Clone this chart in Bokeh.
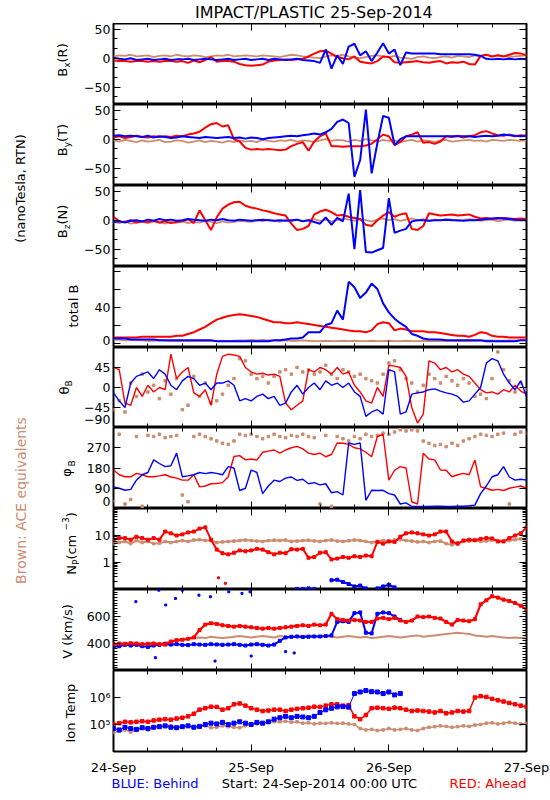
import math
from bokeh.plotting import figure
from bokeh.layouts import column, row
from bokeh.models import (Range1d, FixedTicker, LinearAxis, LogAxis, CustomJSTickFormatter,
                          AllLabels)
from bokeh.embed import file_html
from bokeh.resources import INLINE
from bokeh.core.properties import value

N = float("nan")

# ---------------- data (hours after 24-Sep-2014 00:00 UTC) ----------------
HOURS = list(range(73))
DAY_TICKS = [0, 24, 48, 72]
DAY_LABELS = ["24-Sep", "25-Sep", "26-Sep", "27-Sep"]
SIX_HOUR_TICKS = [6, 12, 18, 30, 36, 42, 54, 60, 66]

BX_RED = [-4, -5, -5, -6, -5, -5, -6, -5, -6, -5, -5, -6,
          -5, -8, -4, -7, -3, 2, -6, -5, -5, -6, -10, -12,
          -13, -12, -11, -6, -4, -3, -2, -3, -2, -1, 3, 8,
          12, 13, 8, 2, 0, -2, 3, -6, -8, -9, -5, 3,
          2, -7, -8, -7, -6, -5, -7, -8, -6, -5, -9, -7,
          -8, -6, -10, -11, 4, 6, 3, 5, 3, 6, 9, 8,
          5]
BX_BLUE = [1, -1, -2, 0, -3, -2, -1, -3, -2, -1, -3, -2,
           -2, -1, -3, -2, -1, -2, -3, -2, -1, -3, -2, -1,
           -3, -2, -1, -3, -1, -2, -3, -2, -1, -3, -4, -5,
           -8, 15, -18, 5, -10, 20, 25, 5, 12, -5, 10, 26,
           8, 15, -12, 10, 8, 8, 8, 8, 8, 7, 7, 7,
           7, 7, 7, 6, 4, -1, -2, -1, -2, -1, -2, -1,
           -2]
BX_BROWN = [3, 5, 4, 6, 3, 4, 5, 2, 4, 5, 3, 6,
            4, 3, 5, 4, 2, 3, 5, 4, 6, 3, 4, 5,
            4, 3, 5, 4, 3, 2, 4, 6, 5, 3, 2, 1,
            0, 3, 5, 4, 6, 3, 1, 0, 2, 4, 5, 3,
            2, 4, 1, 0, -1, 2, 3, 1, 0, 2, 3, 1,
            4, 3, 2, 5, 4, 6, 3, 5, 4, 2, 3, 4,
            5]

BY_RED = [3, 5, 2, 4, 6, 4, 3, 5, 4, 5, 4, 6,
          5, 8, 10, 13, 20, 26, 28, 22, 24, 0, -4, -15,
          -18, -17, -18, -17, -18, -19, -18, -12, -8, -5, -20, -4,
          5, 10, -12, -12, -13, -12, -12, -12, -11, -8, 0, 8,
          5, -10, -5, 5, 8, 12, -6, -5, -8, -4, 5, 4,
          6, 3, 5, 7, 12, 14, 10, 7, 6, 8, 5, 7,
          6]
BY_BLUE = [6, 7, 5, 6, 5, 4, 6, 3, 5, 4, 2, 3,
           5, 4, 3, 2, 4, 3, 2, 3, 4, 2, 3, 1,
           3, 2, 0, 2, 3, 4, 5, 6, 5, 7, 8, 10,
           8, 12, 18, 30, 34, 28, -65, -36, 51, -59, -7, 40,
           37, -10, 0, 5, 5, 5, 5, 5, 5, 5, 5, 5,
           5, 5, 5, 4, 5, 6, 5, 6, 8, 7, 6, 5,
           6]
BY_BROWN = [-2, -4, -1, -3, -5, -2, -4, -3, -1, -5, -4, -2,
            -3, -6, -4, -2, -5, -3, -4, -6, -3, -5, -2, -4,
            -3, -5, -1, -3, -4, -2, -3, -1, -4, -2, -3, -5,
            -2, 0, -3, -1, -2, -4, -1, -3, 0, -2, -4, -1,
            -3, -2, -5, -3, -1, -4, -2, -3, -5, -2, -1, -4,
            -3, -2, -1, -3, -2, -4, -1, -2, -3, -1, -2, -3,
            -2]

BZ_RED = [6, -2, -3, 0, -4, -2, -3, -1, -4, -2, -5, -3,
          -2, 2, -5, 17, 0, -17, 5, 20, 27, 31, 32, 25,
          22, 20, 17, 15, 12, 10, 8, -6, -17, -15, -10, 10,
          15, 18, 14, 8, 9, 6, 4, 2, -8, -10, 0, 8,
          14, 6, 10, 12, -15, -17, -10, 12, 10, 8, 9, 10,
          8, 9, 10, 6, 3, 4, 2, 3, 4, 3, 2, 3,
          2]
BZ_BLUE = [-3, -2, -4, -1, 0, -2, 1, -1, 2, 0, 1, -1,
           0, 2, 1, 0, -1, 1, 0, 2, 0, -1, 1, 0,
           -1, 0, 1, 0, -1, 0, -1, 0, 1, -2, 0, -3,
           -6, 5, -8, 4, -2, 46, -50, 52, -55, -56, -52, -48,
           38, -22, -18, -15, -2, 0, 0, -1, 0, 0, 1, 0,
           0, -1, 0, 0, 1, 2, 3, 4, 3, 2, 1, 0,
           0]
BZ_BROWN = [-3, -5, -2, -6, -4, -3, -5, -2, -4, -6, -3, -4,
            -2, -5, -3, -4, -1, -3, -5, -2, -4, -3, -1, -2,
            -3, 0, -2, 1, -1, -3, 0, -2, 1, -1, 0, 2,
            -1, 1, -2, 0, 3, 1, -1, 2, 0, -2, 1, 3,
            0, 2, -1, 1, 3, 0, 2, -1, 1, 0, 2, 1,
            -1, 0, 2, 1, -1, 0, 1, -2, 0, 1, -1, 0,
            1]

BT_RED = [6, 6, 6, 6, 6, 7, 7, 7, 7, 7, 7, 8,
          8, 10, 12, 15, 18, 22, 26, 28, 30, 31, 32, 31,
          30, 29, 27, 25, 23, 23, 22, 22, 23, 22, 21, 20,
          19, 18, 17, 16, 15, 14, 13, 13, 12, 14, 21, 23,
          22, 14, 16, 15, 13, 13, 13, 12, 12, 11, 10, 9,
          8, 8, 7, 9, 12, 11, 8, 7, 7, 6, 6, 6,
          6]
BT_BLUE = [5, 5, 5, 4, 4, 4, 4, 4, 3, 3, 3, 3,
           3, 3, 3, 3, 3, 3, 2, 2, 2, 2, 2, 2,
           2, 2, 2, 2, 3, 3, 4, 5, 5, 6, 12, 12,
           12, 20, 22, 36, 26, 68, 62, 50, 56, 66, 60, 44,
           34, 27, 22, 18, 10, 8, 5, 4, 4, 4, 3, 3,
           3, 3, 3, 3, 3, 2, 2, 2, 2, 2, 2, 3,
           3]
BT_BROWN = [3.5, 3.5, 3, 3.5, 3, 3, 2.5, 2.5, 3, 2.5, 2, 2.5,
            2, 2.5, 2, 2, 2.5, 2, 2, 2.5, 2, 2.5, 3, 3,
            3.5, 3, 3.5, 3, 3, 2.5, 3, 2.5, 2.5, 3, 2.5, 2,
            2, 2.5, 2, 2, 2.5, 2, 2.5, 2, 2, 2.5, 2, 2,
            2.5, 2, 2, 2.5, 2, 2, 2.5, 2, 2, 2.5, 2, 2,
            2.5, 2, 2, 2, 2.5, 3, 3, 2.5, 2.5, 3, 3, 3,
            3]

TH_RED = [46, 40, -35, -40, 0, -20, 5, -10, 0, -5, 75, 20,
          35, 45, -12, -20, -5, -40, 30, 70, 75, 73, 70, 45,
          35, 30, 32, 28, 30, 25, -35, -50, -40, -30, 40, 35,
          45, 40, 30, 45, 30, 35, 5, -10, -30, -35, 0, -20,
          50, 48, 45, 25, -45, -80, -60, 60, 55, 40, 45, 35,
          40, 30, 25, 10, -5, -12, -10, -15, -5, -10, 5, -8,
          -15]
TH_BLUE = [-12, -30, -45, 10, 25, 30, 35, 20, 40, 30, 5, -5,
           15, 25, 20, 5, 10, -5, 10, 10, 15, 5, -30, -25,
           -30, -20, -15, -25, -20, -40, -35, -10, 5, -15, 0, 10,
           -5, 15, 5, 10, 0, 10, -10, -20, -65, -55, -50, -60,
           40, 35, -60, -55, -15, -12, -10, -5, -3, -8, -12, -15,
           -20, -33, -30, -15, 0, 55, 65, 60, 30, 10, -5, 15,
           -20]
TH_BROWN = [-50, -30, -55, 10, -20, 30, -10, 5, -25, 15, -15, 20,
            -50, -40, 25, -20, 10, -35, -30, -15, 5, 20, 65, 60,
            30, 20, 25, 10, 25, 35, 40, 30, 45, 35, 40, 30,
            35, 50, 30, 20, 40, 35, 25, 30, 20, 15, 10, 30,
            55, 60, 40, 20, 10, -10, 5, 30, 20, 10, 25, 15,
            5, 20, 10, -20, -15, -25, 20, 80, 40, 15, -10, 10,
            -5]

PH_RED = [171, 150, 141, 141, 156, 150, 141, 141, 145, 150, 140, 135,
          126, 126, 150, 96, 100, 110, 111, 115, 141, 231, 235, 216,
          220, 215, 250, 255, 260, 246, 260, 270, 276, 265, 246, 240,
          246, 230, 240, 291, 290, 285, 270, 265, 250, 230, 320, 330,
          126, 170, 186, 180, 30, 20, 246, 220, 216, 171, 170, 141,
          150, 156, 150, 216, 96, 90, 81, 85, 80, 90, 95, 100,
          90]
PH_BLUE = [96, 90, 81, 85, 126, 150, 160, 216, 200, 186, 190, 246,
           141, 145, 150, 160, 155, 160, 156, 150, 186, 180, 80, 90,
           171, 160, 66, 100, 126, 120, 135, 140, 125, 130, 110, 115,
           105, 110, 70, 75, 60, 291, 285, 291, 36, 81, 80, 81,
           66, 60, 20, 25, 9, 9, 9, 9, 10, 10, 9, 9,
           10, 10, 12, 15, 66, 100, 141, 150, 186, 140, 126, 130,
           126]
PH_BROWN = [30, 330, 20, 40, 320, 10, 325, 320, 330, 315, 320, 325,
            60, 30, 320, 330, 320, 310, 300, 290, 285, 300, 330, 325,
            330, 320, 310, 320, 330, 320, 315, 325, 320, 330, 320, 315,
            20, 325, 10, 320, 310, 300, 320, 310, 330, 320, 325, 335,
            330, 340, 350, 345, 350, 345, 300, 290, 280, 285, 275, 290,
            280, 300, 310, 320, 330, 325, 320, 330, 335, 20, 330, 340,
            335]

NP_RED = [7, 8, 8, 7, 9, 8, 7, 8, 7, 14, 12, 10,
          11, 13, 14, 18, 20, 7, 3, 2.2, 2, 2.3, 2.8, 2.6,
          2.8, 3.2, 3, 2.4, 2, 2.3, 2.2, 3.1, 3, 3.2, 1.5, 1.6,
          2.3, 2.4, 1.3, 1.4, 1.6, 1.5, 1.7, 1.6, 1.8, 1.7, 5.8, 5,
          6, 5.8, 9, 12, 13, 12, 11, 10, 11, 14, 14, 6,
          5, 6.5, 7, 6.7, 7.5, 8, 7.8, 6, 6, 8, 10, 12,
          20]
NP_BLUE = [N, N, N, N, N, N, N, N, N, N, N, N,
           N, N, N, N, N, N, N, N, N, N, N, N,
           N, N, N, N, N, N, N, N, 0.105, 0.105, 0.11, 0.105,
           N, N, 0.22, 0.23, 0.19, 0.16, 0.13, 0.14, 0.11, N, 0.11, 0.13,
           0.15, 0.12, N, N, N, N, N, N, N, N, N, N,
           N, N, N, N, N, N, N, N, N, N, N, N,
           N]
NP_BROWN = [5, 5.5, 6, 5, 6.5, 5.5, 6, 5, 5.2, 6, 5.5, 6,
            6.5, 6, 6.8, 7, 6.5, 6.5, 5.5, 5.8, 6, 6.2, 6.5, 6.8,
            6.5, 6.2, 6, 6.5, 6.7, 6.5, 6.8, 6, 6.2, 6.5, 6.7, 6.3,
            6, 6.5, 6.8, 6.2, 6, 6.4, 6.8, 6.5, 6, 5.5, 6, 6.5,
            6.3, 6.8, 7, 6.5, 6.2, 5.8, 6, 5.5, 6, 6.2, 5, 4.5,
            5.5, 6, 6.2, 6.5, 6, 6.3, 6.8, 6.5, 6.2, 6.5, 7, 7.5,
            7]
NP_RED_OUT_T = [18.3, 19.5]
NP_RED_OUT_V = [0.27, 0.17]

V_RED = [395, 400, 398, 402, 400, 395, 398, 400, 395, 392, 415, 425,
         428, 435, 445, 500, 540, 550, 545, 535, 530, 525, 530, 525,
         520, 515, 510, 515, 510, 515, 520, 525, 530, 535, 530, 540,
         535, 540, 620, 580, 575, 570, 575, 570, 560, 560, 585, 590,
         580, 590, 570, 560, 570, 600, 595, 600, 590, 585, 560, 540,
         575, 570, 565, 580, 690, 720, 750, 740, 725, 715, 700, 680,
         650]
V_BLUE = [375, 380, 390, 385, 390, 380, 375, 385, 390, 395, 392, 395,
          390, 388, 395, 392, 390, 395, 393, 390, 392, 395, 390, 385,
          392, 395, 390, 385, 392, 420, 445, 450, 452, 448, 450, 452,
          452, 455, 460, 560, 565, 560, 625, 630, 480, 475, 620, 630,
          625, 600, 575, N, N, N, N, N, N, N, N, N,
          N, N, N, N, N, N, N, N, N, N, N, N,
          N]
V_BROWN = [395, 385, 400, 390, 395, 385, 400, 405, 395, 410, 405, 420,
           425, 435, 440, 445, 440, 450, 445, 440, 445, 450, 455, 450,
           445, 450, 455, 450, 445, 455, 450, 445, 450, 455, 460, 455,
           450, 455, 450, 445, 450, 455, 450, 445, 450, 440, 445, 450,
           455, 450, 445, 450, 455, 460, 450, 455, 460, 465, 470, 475,
           480, 475, 470, 460, 455, 450, 455, 450, 445, 440, 445, 440,
           445]
V_BLUE_OUT_T = [3.9, 7.3, 7.9, 9.1, 10.8, 12.0, 14.9, 16.9, 17.7, 20.1, 22.4, 23.8, 24.0, 30.0, 31.5]
V_BLUE_OUT_V = [710, 295, 795, 685, 734, 795, 758, 746, 270, 783, 771, 783, 307, 340, 330]

T_RED = [1.0e5, 1.12e5, 1.26e5, 1.2e5, 1.26e5, 1.32e5, 1.26e5, 1.41e5, 1.51e5, 1.58e5, 1.51e5, 1.66e5,
         1.78e5, 2.0e5, 2.5e5, 3.55e5, 4.0e5, 4.57e5, 4.47e5, 3.55e5, 4.0e5, 5.6e5, 6.0e5, 5.0e5,
         4.0e5, 3.55e5, 3.16e5, 3.3e5, 3.55e5, 3.55e5, 3.16e5, 3.55e5, 3.8e5, 4.0e5, 4.2e5, 4.57e5,
         4.47e5, 5.0e5, 5.6e5, 5.6e5, 5.0e5, 5.25e5, 2.0e5, 1.58e5, 2.24e5, 4.0e5, 4.2e5, 4.0e5,
         3.8e5, 4.2e5, 4.0e5, 3.55e5, 3.16e5, 3.3e5, 3.16e5, 3.0e5, 2.8e5, 3.16e5, 2.6e5, 2.8e5,
         3.16e5, 3.0e5, 3.16e5, 1.0e6, 1.12e6, 1.05e6, 8.9e5, 7.9e5, 7.1e5, 6.3e5, 5.6e5, 5.0e5,
         4.57e5]
T_BLUE = [7.1e4, 6.3e4, 7.9e4, 7.1e4, 6.6e4, 7.6e4, 7.1e4, 7.9e4, 8.3e4, 8.9e4, 7.9e4, 7.6e4,
          8.3e4, 8.9e4, 7.9e4, 8.5e4, 1.0e5, 1.12e5, 1.05e5, 1.2e5, 1.0e5, 1.12e5, 1.26e5, 1.12e5,
          1.0e5, 1.2e5, 1.12e5, 1.26e5, 1.58e5, 1.78e5, 2.0e5, 1.78e5, 2.0e5, 1.9e5, 1.78e5, 2.0e5,
          2.8e5, 3.5e5, 4.0e5, 4.5e5, 4.6e5, 4.4e5, 1.4e6, 1.6e6, 1.8e6, 1.65e6, 1.6e6, 1.4e6,
          1.6e6, 1.25e6, 1.4e6, N, N, N, N, N, N, N, N, N,
          N, N, N, N, N, N, N, N, N, N, N, N,
          N]
T_BROWN = [5.0e4, 5.6e4, 6.3e4, 5.25e4, 6.0e4, 7.1e4, 6.3e4, 7.9e4, 8.9e4, 8.3e4, 8.9e4, 7.9e4,
           8.5e4, 8.9e4, 7.9e4, 8.3e4, 8.9e4, 7.6e4, 7.9e4, 8.9e4, 8.3e4, 7.9e4, 7.6e4, 8.9e4,
           1.0e5, 1.05e5, 1.12e5, 1.2e5, 1.26e5, 1.26e5, 1.32e5, 1.2e5, 1.26e5, 1.12e5, 1.15e5, 1.05e5,
           1.12e5, 1.1e5, 1.15e5, 1.1e5, 1.12e5, 1.05e5, 1.0e5, 7.1e4, 6.3e4, 6.6e4, 6.0e4, 6.3e4,
           7.1e4, 6.3e4, 6.6e4, 7.1e4, 6.3e4, 6.0e4, 7.1e4, 7.9e4, 8.3e4, 8.9e4, 8.5e4, 7.9e4,
           8.3e4, 8.9e4, 8.5e4, 9.5e4, 1.0e5, 1.12e5, 1.15e5, 1.05e5, 1.12e5, 1.2e5, 1.12e5, 1.05e5,
           1.12e5]

# ---------------- styling / layout (page pixels; the page has no margin) ----------------
RED, BLUE, BROWN = "#ff0000", "#0000ff", "#cc8c70"
FONT = "DejaVu Sans"
PAGE_W, PAGE_H = 550, 800
FRAME_LEFT, FRAME_RIGHT = 111, 526
LEFT_W = 81
PANEL_W = PAGE_W - LEFT_W
MB_LEFT = FRAME_LEFT - LEFT_W
MB_RIGHT = PAGE_W - FRAME_RIGHT
FRAME_HS = [81, 81, 81, 81, 80, 81, 81, 81, 81]
TOP = 23
AXIS_B = 26
MID_H = sum(FRAME_HS) + AXIS_B
FOOT_H = PAGE_H - TOP - MID_H

XR = Range1d(0, 72)

CHAR_W = {"B": .686, "x": .592, "y": .592, "z": .525, "(": .390, ")": .390,
          "R": .695, "T": .611, "N": .748, "t": .392, "o": .612, "a": .613,
          "l": .278, " ": .318, "θ": .612, "φ": .781, "P": .603, "c": .550,
          "m": .974, "−": .838, "3": .636, "V": .684, "k": .579, "/": .337,
          "s": .521, "I": .295, "n": .634, "e": .615, "p": .635}


def text_width(s, size):
    return sum(CHAR_W.get(ch, 0.6) for ch in s) * size


def blank():
    return CustomJSTickFormatter(code="return ''")


def style_axis(ax, major_in=7, minor_in=4, font_size="12.5px"):
    ax.major_tick_in = major_in
    ax.major_tick_out = 0
    ax.minor_tick_in = minor_in
    ax.minor_tick_out = 0
    ax.major_tick_line_color = "black"
    ax.minor_tick_line_color = "black"
    ax.axis_line_color = None
    ax.major_label_text_font = FONT
    ax.major_label_text_font_size = font_size
    ax.major_label_text_color = "black"
    ax.major_label_policy = AllLabels()


def panel(i, yr, log, marks, minor, label_at, labels):
    last = i == len(FRAME_HS) - 1
    p = figure(width=PANEL_W, height=FRAME_HS[i] + (AXIS_B if last else 0),
               x_range=XR, y_range=Range1d(*yr),
               y_axis_type="log" if log else "linear",
               x_axis_location=None, y_axis_location="left", title=None,
               output_backend="svg", toolbar_location=None,
               min_border_left=MB_LEFT, min_border_right=MB_RIGHT,
               min_border_top=0, min_border_bottom=AXIS_B if last else 0)
    p.grid.visible = False
    p.outline_line_color = "black"
    p.outline_line_width = 2
    p.background_fill_color = "white"
    p.border_fill_color = "white"

    # labels of the left axis (edge labels nudged inside the box, as IDL does)
    ya = p.yaxis[0]
    ya.ticker = FixedTicker(ticks=label_at)
    ya.major_label_overrides = dict(zip(label_at, labels))
    style_axis(ya, 0, 0)
    ya.major_label_standoff = 3

    AxisCls = LogAxis if log else LinearAxis
    # inward tick marks on the left and right edges
    for loc, side in ((0, "left"), (72, "right")):
        ax = AxisCls(fixed_location=loc, ticker=FixedTicker(ticks=marks, minor_ticks=minor),
                     formatter=blank())
        style_axis(ax)
        p.add_layout(ax, side)

    # inward tick marks on the bottom and top edges
    for loc, side in ((yr[0], "below"), (yr[1], "above")):
        if last and side == "below":
            continue
        xa = LinearAxis(fixed_location=loc,
                        ticker=FixedTicker(ticks=DAY_TICKS, minor_ticks=SIX_HOUR_TICKS),
                        formatter=blank())
        style_axis(xa)
        p.add_layout(xa, side)
    if last:
        xa = LinearAxis(ticker=FixedTicker(ticks=DAY_TICKS, minor_ticks=SIX_HOUR_TICKS),
                        major_label_overrides=dict(zip(DAY_TICKS, DAY_LABELS)))
        style_axis(xa, font_size="13px")
        xa.major_label_standoff = 8
        p.add_layout(xa, "below")
    return p


B_TICKS = [-50, 0, 50]
B_LABELS = ["−50", "0", "50"]
B_MINOR = [-66.67, -33.33, -16.67, 16.67, 33.33]

panels = []

p = panel(0, (-80, 60), False, B_TICKS, B_MINOR, B_TICKS, B_LABELS)
p.line(HOURS, BX_BROWN, color=BROWN, line_width=1.8)
p.line(HOURS, BX_RED, color=RED, line_width=2)
p.line(HOURS, BX_BLUE, color=BLUE, line_width=2)
panels.append(p)

p = panel(1, (-80, 60), False, B_TICKS, B_MINOR, B_TICKS, B_LABELS)
p.line(HOURS, BY_BROWN, color=BROWN, line_width=1.8)
p.line(HOURS, BY_RED, color=RED, line_width=2)
p.line(HOURS, BY_BLUE, color=BLUE, line_width=2)
panels.append(p)

p = panel(2, (-80, 60), False, B_TICKS, B_MINOR, B_TICKS, B_LABELS)
p.line(HOURS, BZ_BROWN, color=BROWN, line_width=1.8)
p.line(HOURS, BZ_RED, color=RED, line_width=2)
p.line(HOURS, BZ_BLUE, color=BLUE, line_width=2)
panels.append(p)

p = panel(3, (-5, 85), False, [0, 20, 40, 60, 80], [], [3.3, 40], ["0", "40"])
p.line(HOURS, BT_BROWN, color=BROWN, line_width=1.8)
p.line(HOURS, BT_RED, color=RED, line_width=2)
p.line(HOURS, BT_BLUE, color=BLUE, line_width=2)
panels.append(p)

p = panel(4, (-90, 90), False, [-90, -45, 0, 45, 90], [],
          [-73, -45, 0, 45], ["−90", "−45", "0", "45"])
p.scatter(HOURS, TH_BROWN, marker="square", size=2.5, color=BROWN)
p.line(HOURS, TH_RED, color=RED, line_width=1.4)
p.line(HOURS, TH_BLUE, color=BLUE, line_width=1.4)
panels.append(p)

p = panel(5, (0, 360), False, [0, 90, 180, 270, 360], [],
          [33, 90, 180, 270], ["0", "90", "180", "270"])
p.scatter(HOURS, PH_BROWN, marker="square", size=2.5, color=BROWN)
p.line(HOURS, PH_RED, color=RED, line_width=1.4)
p.line(HOURS, PH_BLUE, color=BLUE, line_width=1.4)
panels.append(p)

NP_MINOR = [0.2, 0.3, 0.4, 0.5, 0.6, 0.7, 0.8, 0.9, 2, 3, 4, 5, 6, 7, 8, 9,
            20, 30, 40, 50, 60, 70, 80, 90]
p = panel(6, (0.1, 100), True, [1, 10], NP_MINOR, [1, 10], ["1", "10"])
p.line(HOURS, NP_BROWN, color=BROWN, line_width=2)
p.scatter(HOURS, NP_BROWN, marker="square", size=2.5, color=BROWN)
p.line(HOURS, NP_RED, color=RED, line_width=2)
p.scatter(HOURS, NP_RED, marker="square", size=3, color=RED)
p.scatter(NP_RED_OUT_T, NP_RED_OUT_V, marker="square", size=2, color=RED)
p.line(HOURS, NP_BLUE, color=BLUE, line_width=2)
p.scatter(HOURS, NP_BLUE, marker="square", size=3, color=BLUE)
panels.append(p)

V_MINOR = [v for v in range(220, 800, 20) if v not in (400, 600)]
p = panel(7, (200, 800), False, [400, 600], V_MINOR, [400, 600], ["400", "600"])
p.line(HOURS, V_BROWN, color=BROWN, line_width=2)
p.line(HOURS, V_BLUE, color=BLUE, line_width=2)
p.scatter(HOURS, V_BLUE, marker="square", size=3, color=BLUE)
p.scatter(V_BLUE_OUT_T, V_BLUE_OUT_V, marker="square", size=2, color=BLUE)
p.line(HOURS, V_RED, color=RED, line_width=2.2)
p.scatter(HOURS, V_RED, marker="square", size=3, color=RED)
panels.append(p)

p = panel(8, (1e4, 1e7), True, [1e5, 1e6], [], [1e5, 1e6], ["10⁵", "10⁶"])
p.line(HOURS, T_BROWN, color=BROWN, line_width=1.5)
p.scatter(HOURS, T_BROWN, marker="square", size=2.5, color=BROWN)
p.line(HOURS, T_RED, color=RED, line_width=1.5)
p.scatter(HOURS, T_RED, marker="square", size=3.5, color=RED)
p.line(HOURS, T_BLUE, color=BLUE, line_width=1)
p.scatter(HOURS, T_BLUE, marker="square", size=4, color=BLUE)
panels.append(p)


def plain_fig(w, h):
    f = figure(width=w, height=h, x_range=Range1d(0, w), y_range=Range1d(0, h),
               x_axis_location=None, y_axis_location=None, title=None,
               output_backend="svg", toolbar_location=None, min_border=0)
    f.grid.visible = False
    f.outline_line_color = None
    f.background_fill_color = "white"
    f.border_fill_color = "white"
    return f


def put(f, x, y, s, size, color="black", align="left", angle=0.0):
    f.text(x=[x], y=[y], text=[s], angle=angle, text_align=align,
           text_baseline="middle", text_font=value(FONT),
           text_font_size=value(f"{size}px"), text_color=color)


# left strip: side labels + per-panel axis titles (rotated, with sub/superscripts)
left_fig = plain_fig(LEFT_W, MID_H)


def ly(page_y):
    return MID_H - (page_y - TOP)


put(left_fig, 20, ly(188), "(nanoTesla, RTN)", 13, align="center", angle=math.pi / 2)
put(left_fig, 20, ly(500), "Brown: ACE equivalents", 14, color=BROWN, align="center",
    angle=math.pi / 2)

# (centre y on page, centre x of the main text, parts)
YLABELS = [
    (59.5, 61.5, [("B", "n"), ("x", "sub"), ("(R)", "n")]),
    (139.5, 61.5, [("B", "n"), ("y", "sub"), ("(T)", "n")]),
    (221, 61.5, [("B", "n"), ("z", "sub"), ("(N)", "n")]),
    (305.5, 73, [("total B", "n")]),
    (387, 63.5, [("θ", "n"), ("B", "sub")]),
    (468, 66, [("φ", "n"), ("B", "sub")]),
    (543, 70.5, [("N", "n"), ("P", "sub"), (" (cm", "n"), ("−3", "sup"), (")", "n")]),
    (631, 67, [("V (km/s)", "n")]),
    (711.5, 70, [("Ion Temp", "n")]),
]
SIZES = {"n": 13, "sub": 9, "sup": 9}
DXS = {"n": 0, "sub": 5, "sup": -6}
for yc, xc, parts in YLABELS:
    total = sum(text_width(t, SIZES[k]) for t, k in parts)
    yy = ly(yc) - total / 2
    for t, k in parts:
        put(left_fig, xc + DXS[k], yy, t, SIZES[k], angle=math.pi / 2)
        yy += text_width(t, SIZES[k])

title_fig = plain_fig(PAGE_W, TOP)
put(title_fig, (FRAME_LEFT + FRAME_RIGHT) / 2, TOP - 11.7, "IMPACT/PLASTIC   25-Sep-2014", 16,
    align="center")

foot_fig = plain_fig(PAGE_W, FOOT_H)
put(foot_fig, FRAME_LEFT, PAGE_H - 783, "BLUE: Behind", 13, color=BLUE)
put(foot_fig, 319, PAGE_H - 783, "Start: 24-Sep-2014 00:00 UTC", 13, align="center")
put(foot_fig, FRAME_RIGHT, PAGE_H - 783, "RED: Ahead", 13, color=RED, align="right")

layout = column(title_fig, row(left_fig, column(*panels)), foot_fig)

with open("out.html", "w") as fh:
    fh.write(file_html(layout, INLINE))
